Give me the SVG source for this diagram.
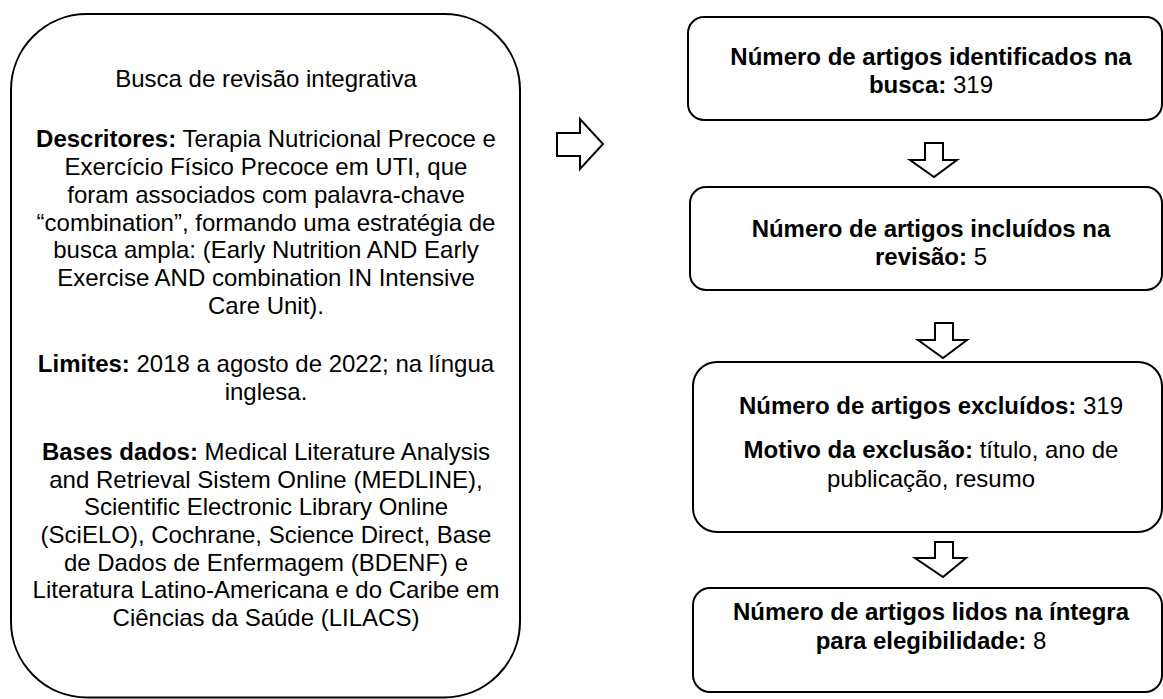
<svg xmlns="http://www.w3.org/2000/svg" width="1163" height="699" viewBox="0 0 1163 699">
<style>
.box{fill:#fff;stroke:#000;stroke-width:2}
.arr{fill:#fff;stroke:#000;stroke-width:2;stroke-linejoin:miter}
text{font-family:"Liberation Sans",Arial,sans-serif;font-size:24px;fill:#000;text-anchor:middle}
.b{font-weight:bold}
</style>
<rect width="1163" height="699" fill="#fff"/>
<g id="search">
<rect class="box" x="11" y="14" width="509" height="683.5" rx="76" ry="76"/>
<text x="266" y="87">Busca de revisão integrativa</text>
<text x="266" y="147"><tspan class="b">Descritores:</tspan> Terapia Nutricional Precoce e</text>
<text x="266" y="175">Exercício Físico Precoce em UTI, que</text>
<text x="266" y="203">foram associados com palavra-chave</text>
<text x="266" y="231">“combination”, formando uma estratégia de</text>
<text x="266" y="258">busca ampla: (Early Nutrition AND Early</text>
<text x="266" y="286">Exercise AND combination IN Intensive</text>
<text x="266" y="314">Care Unit).</text>
<text x="266" y="372"><tspan class="b">Limites:</tspan> 2018 a agosto de 2022; na língua</text>
<text x="266" y="400">inglesa.</text>
<text x="266" y="460"><tspan class="b">Bases dados:</tspan> Medical Literature Analysis</text>
<text x="266" y="488">and Retrieval Sistem Online (MEDLINE),</text>
<text x="266" y="515">Scientific Electronic Library Online</text>
<text x="266" y="543">(SciELO), Cochrane, Science Direct, Base</text>
<text x="266" y="571">de Dados de Enfermagem (BDENF) e</text>
<text x="266" y="598">Literatura Latino-Americana e do Caribe em</text>
<text x="266" y="626">Ciências da Saúde (LILACS)</text>
</g>
<g id="identified">
<rect class="box" x="688" y="17" width="474" height="103" rx="16" ry="16"/>
<text x="931" y="65" class="b">Número de artigos identificados na</text>
<text x="931" y="93"><tspan class="b">busca:</tspan> 319</text>
</g>
<g id="included">
<rect class="box" x="690" y="187" width="472" height="103" rx="16" ry="16"/>
<text x="931" y="237" class="b">Número de artigos incluídos na</text>
<text x="931" y="265"><tspan class="b">revisão:</tspan> 5</text>
</g>
<g id="excluded">
<rect class="box" x="693" y="362" width="469" height="170" rx="24" ry="24"/>
<text x="931" y="414"><tspan class="b">Número de artigos excluídos:</tspan> 319</text>
<text x="931" y="458"><tspan class="b">Motivo da exclusão:</tspan> título, ano de</text>
<text x="931" y="487">publicação, resumo</text>
</g>
<g id="fulltext">
<rect class="box" x="693" y="588" width="469" height="104" rx="17" ry="17"/>
<text x="931" y="620" class="b">Número de artigos lidos na íntegra</text>
<text x="931" y="649"><tspan class="b">para elegibilidade:</tspan> 8</text>
</g>
<g id="connectors">
<polygon class="arr" points="557,133 580,133 580,119 603,144 580,169 580,156 557,156"/>
<polygon class="arr" points="925,143 943,143 943,160 957,160 934,177 910,160 925,160"/>
<polygon class="arr" points="935,323 953,323 953,340 967,340 943,358 918,340 935,340"/>
<polygon class="arr" points="935,542 953,542 953,558 966,558 943,577 915,558 935,558"/>
</g>
</svg>
